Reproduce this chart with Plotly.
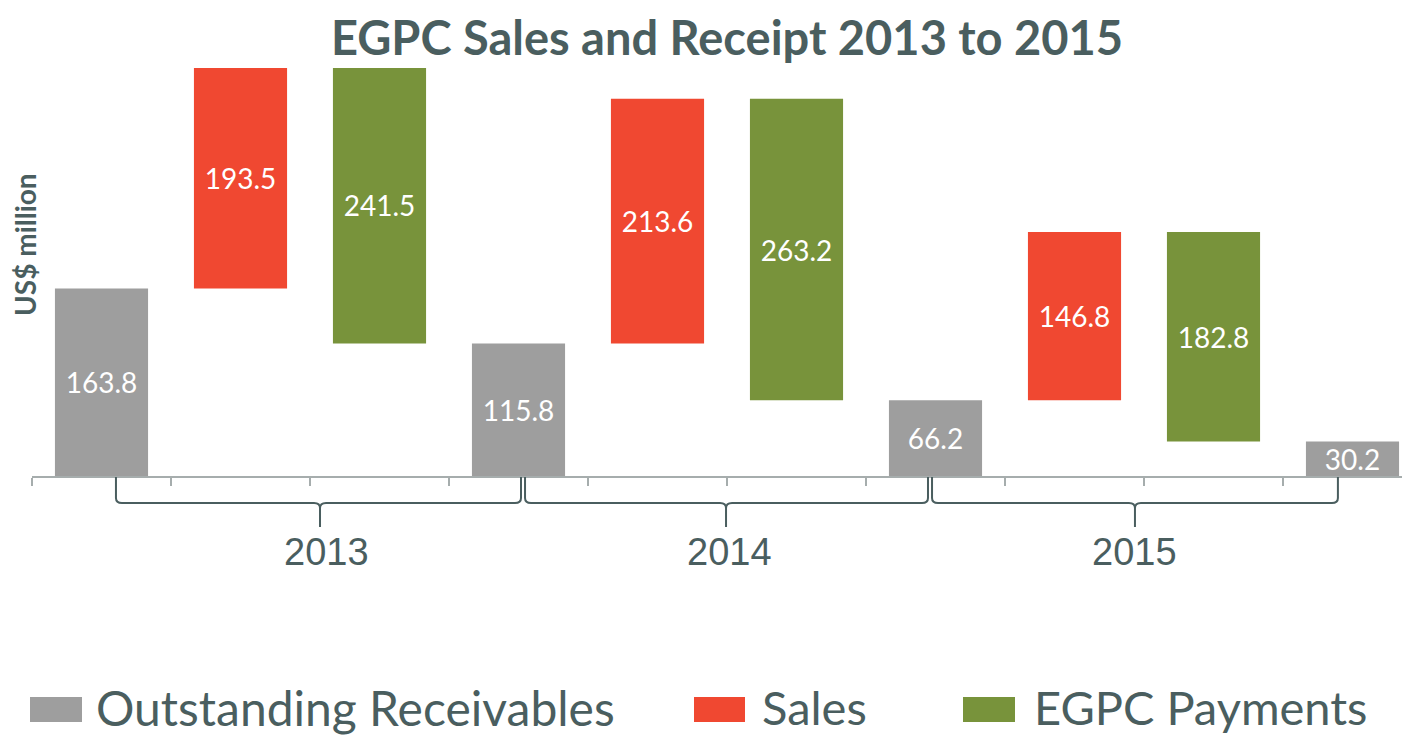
import plotly.graph_objects as go

# ---------------- data ----------------
years = ["2013", "2014", "2015"]
receivables = [163.8, 115.8, 66.2, 30.2]      # opening/closing outstanding receivables
sales = [193.5, 213.6, 146.8]
payments = [241.5, 263.2, 182.8]
series_names = ["Outstanding Receivables", "Sales", "EGPC Payments"]

# ---------------- style ----------------
OFF = 8                      # page body margin of the html page
W, H = 1410 - OFF, 737 - OFF
C_GREY = "#9e9e9e"
C_RED = "#f04831"
C_GREEN = "#78933b"
C_TEXT = "#4a5e5f"
C_AXIS = "#a6adad"
FONT = "Lato"

BASE_Y = 476                 # screen y of the category axis
M_L, M_R, M_T = 32 - OFF, 0, 60
M_B = H - (BASE_Y - OFF)
PLOT_W = W - M_L - M_R
PLOT_H = H - M_T - M_B
CAT_PX = 139.0
PX_PER_UNIT = 1.145


def px_x_to_paper(px):
    """screen x (reference picture) -> paper x"""
    return (px - OFF - M_L) / PLOT_W


def px_y_to_paper(py):
    """screen y (reference picture) -> paper y"""
    return (BASE_Y - py) / PLOT_H


# positions of the 10 bars: R S P R S P R S P R
rec_x, sales_x, pay_x = [], [], []
sales_base, pay_base = [], []
pos = 0
for i in range(len(sales)):
    rec_x.append(pos)
    sales_x.append(pos + 1)
    pay_x.append(pos + 2)
    sales_base.append(receivables[i])
    pay_base.append(receivables[i] + sales[i] - payments[i])
    pos += 3
rec_x.append(pos)

label_font = dict(family=FONT, size=28, color="white")

fig = go.Figure()
fig.add_trace(go.Bar(
    x=rec_x, y=receivables, name=series_names[0], marker_color=C_GREY,
    width=0.67, text=[f"{v:.1f}" for v in receivables], textposition="inside",
    insidetextanchor="middle", textfont=label_font, showlegend=False,
    marker_line_width=0,
))
fig.add_trace(go.Bar(
    x=sales_x, y=sales, base=sales_base, name=series_names[1], marker_color=C_RED,
    width=0.67, text=[f"{v:.1f}" for v in sales], textposition="inside",
    insidetextanchor="middle", textfont=label_font, showlegend=False,
    marker_line_width=0,
))
fig.add_trace(go.Bar(
    x=pay_x, y=payments, base=pay_base, name=series_names[2], marker_color=C_GREEN,
    width=0.67, text=[f"{v:.1f}" for v in payments], textposition="inside",
    insidetextanchor="middle", textfont=label_font, showlegend=False,
    marker_line_width=0,
))

n_cat = len(rec_x) + len(sales_x) + len(pay_x)
x_range = [-0.5, -0.5 + PLOT_W / CAT_PX]

fig.update_layout(
    width=W, height=H,
    margin=dict(l=M_L, r=M_R, t=M_T, b=M_B, pad=0),
    paper_bgcolor="white", plot_bgcolor="white",
    barmode="overlay",
    uniformtext=dict(mode="show", minsize=28),
    title=dict(
        text="<b>EGPC Sales and Receipt 2013 to 2015</b>",
        font=dict(family=FONT, size=47, color=C_TEXT),
        x=(727 - OFF) / W, xanchor="center", xref="container",
        y=1 - (39 - OFF) / H, yanchor="middle", yref="container",
    ),
    xaxis=dict(
        range=x_range, showgrid=False, zeroline=False,
        showline=True, linecolor=C_AXIS, linewidth=2,
        tickmode="array", tickvals=[i - 0.5 for i in range(n_cat)],
        ticktext=["" for _ in range(n_cat)],
        ticks="outside", ticklen=8, tickwidth=1.5, tickcolor=C_AXIS,
        fixedrange=True,
    ),
    yaxis=dict(
        range=[0, PLOT_H / PX_PER_UNIT], showgrid=False, zeroline=False,
        showline=False, showticklabels=False, ticks="",
    ),
    showlegend=False,
)

# y axis title
fig.add_annotation(
    text="<b>US$ million</b>", textangle=-90,
    xref="paper", yref="paper",
    x=px_x_to_paper(25), y=px_y_to_paper(245),
    xanchor="center", yanchor="middle", showarrow=False,
    font=dict(family=FONT, size=28, color=C_TEXT),
)

# year group brackets (x in category units: start, tip, end)
bracket_spans = [(0.104, 1.572, 3.018), (3.047, 4.493, 5.946), (5.975, 7.435, 8.895)]
label_x = [1.62, 4.515, 7.435]
y_top = px_y_to_paper(477)
y_mid = px_y_to_paper(503)
y_tip = px_y_to_paper(527)
dx = 6 / CAT_PX
for (x0, xc, x1), lx, yr in zip(bracket_spans, label_x, years):
    yc1 = y_mid + 5 / PLOT_H
    yc2 = y_mid - 5 / PLOT_H
    path = (
        f"M {x0},{y_top} L {x0},{yc1} Q {x0},{y_mid} {x0 + dx},{y_mid} "
        f"L {xc - dx},{y_mid} Q {xc},{y_mid} {xc},{yc2} L {xc},{y_tip} "
        f"M {xc},{yc2} Q {xc},{y_mid} {xc + dx},{y_mid} "
        f"L {x1 - dx},{y_mid} Q {x1},{y_mid} {x1},{yc1} L {x1},{y_top}"
    )
    fig.add_shape(type="path", path=path, xref="x", yref="paper",
                  line=dict(color=C_TEXT, width=2), layer="above")
    fig.add_annotation(
        text=yr, xref="x", yref="paper", x=lx, y=px_y_to_paper(552),
        xanchor="center", yanchor="middle", showarrow=False,
        font=dict(family="Liberation Sans", size=38, color=C_TEXT),
    )

# custom legend (swatch x0, swatch x1, text x, font size in screen pixels)
legend_items = [
    (series_names[0], C_GREY, 30, 82, 94, 48),
    (series_names[1], C_RED, 694, 745, 760, 47),
    (series_names[2], C_GREEN, 963, 1015, 1032, 47),
]
for name, col, sx0, sx1, tx, fs in legend_items:
    fig.add_shape(type="rect", xref="paper", yref="paper",
                  x0=px_x_to_paper(sx0), x1=px_x_to_paper(sx1),
                  y0=px_y_to_paper(722), y1=px_y_to_paper(697),
                  fillcolor=col, line=dict(width=0))
    fig.add_annotation(
        text=name, xref="paper", yref="paper",
        x=px_x_to_paper(tx), y=px_y_to_paper(707),
        xanchor="left", yanchor="middle", showarrow=False,
        font=dict(family=FONT, size=fs, color=C_TEXT),
    )

fig.write_html("out.html")
